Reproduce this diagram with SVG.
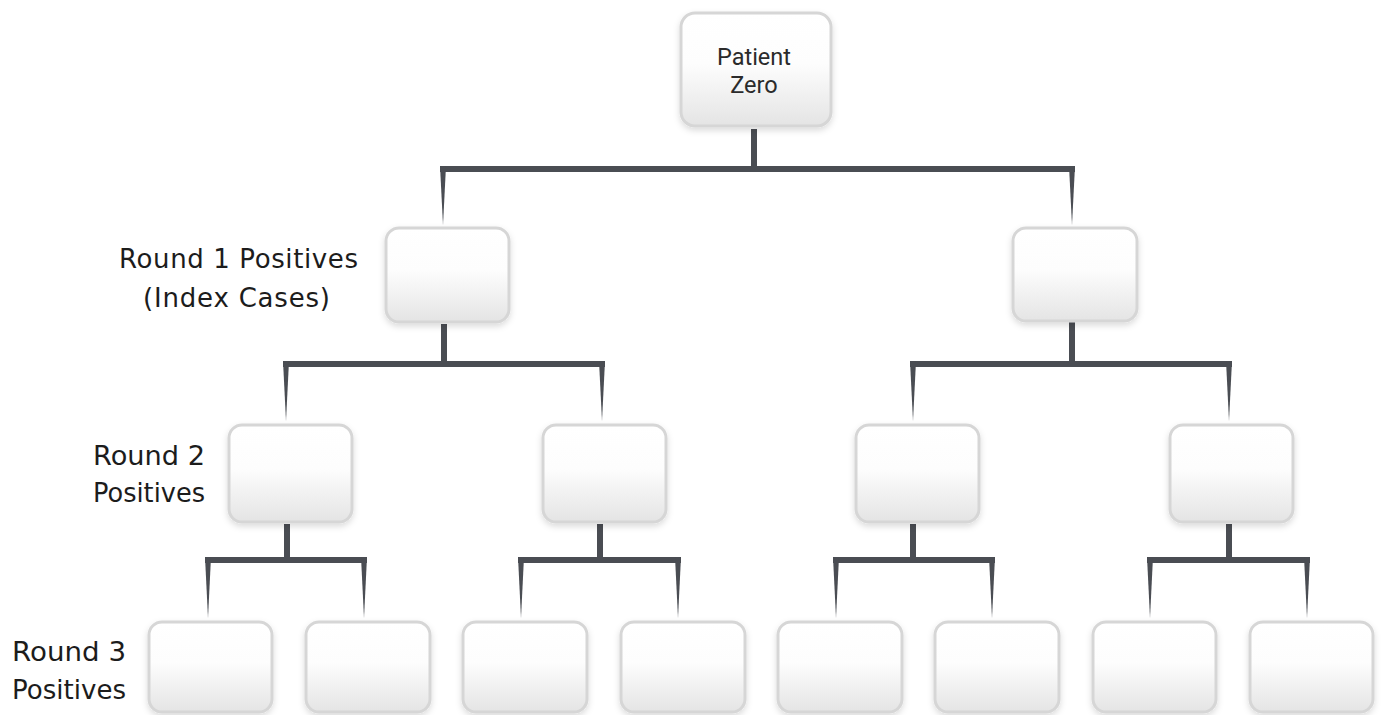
<svg xmlns="http://www.w3.org/2000/svg" width="1383" height="715" viewBox="0 0 1383 715">
  <defs>
    <linearGradient id="boxFill" x1="0" y1="0" x2="0" y2="1">
      <stop offset="0" stop-color="#ffffff"/>
      <stop offset="0.45" stop-color="#fdfdfd"/>
      <stop offset="1" stop-color="#e4e4e4"/>
    </linearGradient>
    <filter id="shadow" x="-20%" y="-20%" width="140%" height="150%">
      <feDropShadow dx="0" dy="3" stdDeviation="3" flood-color="#000000" flood-opacity="0.14"/>
    </filter>
  </defs>
  <style>
    .box { fill: url(#boxFill); stroke: #d6d6d6; stroke-width: 3; filter: url(#shadow); }
    .conn { fill: #4a4d53; }
    .label { font-family: "DejaVu Sans", "Liberation Sans", sans-serif; font-size: 26px; fill: #1c1c1c; }
    .ntext { font-family: Roboto, "Liberation Sans", sans-serif; font-size: 23.5px; fill: #2b2b2b; text-anchor: middle; }
  </style>
  <rect width="1383" height="715" fill="#ffffff"/>

  <!-- connectors -->
  <g id="connectors" class="conn">
    <!-- level 0 -->
    <rect x="751" y="129" width="6" height="40"/>
    <rect x="440" y="166" width="635" height="6"/>
    <polygon points="440,166 446,166 443,225"/>
    <polygon points="1069,166 1075,166 1072,225"/>
    <!-- level 1 -->
    <rect x="441" y="324" width="6" height="40"/>
    <rect x="283" y="361" width="322" height="6"/>
    <polygon points="283,361 289,361 286,421"/>
    <polygon points="599,361 605,361 602,421"/>
    <rect x="1069" y="322" width="6" height="42"/>
    <rect x="910" y="361" width="322" height="6"/>
    <polygon points="910,361 916,361 913,421"/>
    <polygon points="1226,361 1232,361 1229,421"/>
    <!-- level 2 -->
    <rect x="284" y="524" width="6" height="36"/>
    <rect x="205" y="557" width="162" height="6"/>
    <polygon points="205,557 211,557 208,618"/>
    <polygon points="361,557 367,557 364,618"/>
    <rect x="597" y="524" width="6" height="36"/>
    <rect x="518" y="557" width="163" height="6"/>
    <polygon points="518,557 524,557 521,618"/>
    <polygon points="675,557 681,557 678,618"/>
    <rect x="910" y="524" width="6" height="36"/>
    <rect x="833" y="557" width="162" height="6"/>
    <polygon points="833,557 839,557 836,618"/>
    <polygon points="989,557 995,557 992,618"/>
    <rect x="1226" y="524" width="6" height="36"/>
    <rect x="1147" y="557" width="163" height="6"/>
    <polygon points="1147,557 1153,557 1150,618"/>
    <polygon points="1304,557 1310,557 1307,618"/>
  </g>

  <!-- level 0 -->
  <g id="patient-zero">
    <rect class="box" x="681" y="13" width="150" height="113" rx="14"/>
    <text class="ntext" x="754" y="65">Patient</text>
    <text class="ntext" x="754" y="93">Zero</text>
  </g>

  <!-- level 1 -->
  <g id="r1-a"><rect class="box" x="386" y="228" width="123" height="94" rx="13"/></g>
  <g id="r1-b"><rect class="box" x="1013" y="228" width="124" height="93" rx="13"/></g>

  <!-- level 2 -->
  <g id="r2-a"><rect class="box" x="229" y="425" width="123" height="97" rx="13"/></g>
  <g id="r2-b"><rect class="box" x="543" y="425" width="123" height="97" rx="13"/></g>
  <g id="r2-c"><rect class="box" x="856" y="425" width="123" height="97" rx="13"/></g>
  <g id="r2-d"><rect class="box" x="1170" y="425" width="123" height="97" rx="13"/></g>

  <!-- level 3 -->
  <g id="r3-a"><rect class="box" x="149" y="622" width="123" height="90" rx="13"/></g>
  <g id="r3-b"><rect class="box" x="306" y="622" width="124" height="90" rx="13"/></g>
  <g id="r3-c"><rect class="box" x="463" y="622" width="124" height="90" rx="13"/></g>
  <g id="r3-d"><rect class="box" x="621" y="622" width="124" height="90" rx="13"/></g>
  <g id="r3-e"><rect class="box" x="778" y="622" width="124" height="90" rx="13"/></g>
  <g id="r3-f"><rect class="box" x="935" y="622" width="124" height="90" rx="13"/></g>
  <g id="r3-g"><rect class="box" x="1093" y="622" width="123" height="90" rx="13"/></g>
  <g id="r3-h"><rect class="box" x="1250" y="622" width="123" height="90" rx="13"/></g>

  <!-- row labels -->
  <g id="label-round1">
    <text class="label" x="119" y="268" textLength="239" lengthAdjust="spacing">Round 1 Positives</text>
    <text class="label" x="143" y="307" textLength="187" lengthAdjust="spacing">(Index Cases)</text>
  </g>
  <g id="label-round2">
    <text class="label" x="93" y="465" textLength="112" lengthAdjust="spacingAndGlyphs">Round 2</text>
    <text class="label" x="93" y="502" textLength="112" lengthAdjust="spacingAndGlyphs">Positives</text>
  </g>
  <g id="label-round3">
    <text class="label" x="12" y="661" textLength="114" lengthAdjust="spacingAndGlyphs">Round 3</text>
    <text class="label" x="12" y="699" textLength="114" lengthAdjust="spacingAndGlyphs">Positives</text>
  </g>
</svg>
